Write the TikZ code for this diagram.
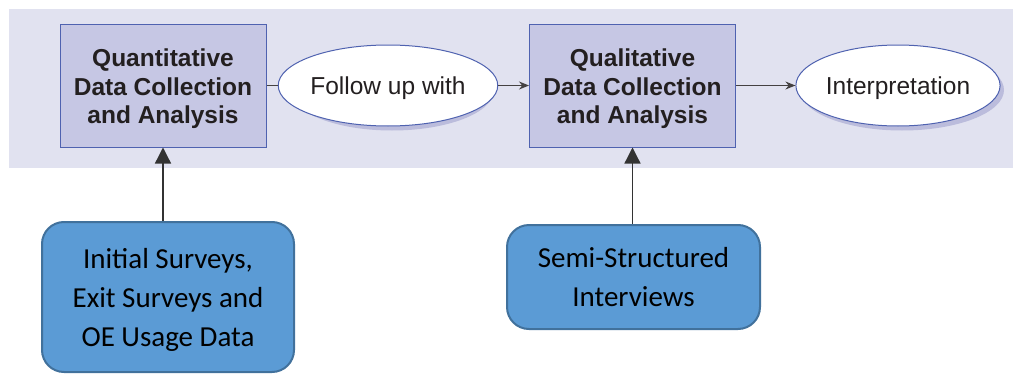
\documentclass[tikz,border=0pt]{standalone}
\usepackage{fontspec}
\setmainfont{Liberation Sans}
\newfontfamily\calib{Carlito}
\usetikzlibrary{arrows.meta,shapes.geometric}
\definecolor{bandfill}{HTML}{E1E2F0}
\definecolor{boxfill}{HTML}{C6C7E4}
\definecolor{boxline}{HTML}{4F62B0}
\definecolor{shade}{HTML}{BBBCDC}
\definecolor{bluefill}{HTML}{5B9BD5}
\definecolor{blueline}{HTML}{41719C}
\definecolor{ink}{HTML}{231F20}
% centred lines of text, set lower by #1 without changing the box size
\newcommand\lowered[2]{\raisebox{-#1}[\height][\depth]{\begin{tabular}{@{}c@{}}#2\end{tabular}}}
\tikzset{
  stagebox/.style={draw=boxline, line width=1pt, fill=boxfill, minimum width=206pt,
    minimum height=123pt, inner sep=0pt, align=center, text=ink,
    font=\fontsize{24.5}{28.5}\selectfont\bfseries},
  oval/.style={ellipse, draw=boxline, line width=1pt, fill=white, minimum width=204pt,
    minimum height=81pt, inner sep=0pt, text=ink, font=\fontsize{24.5}{28.5}\selectfont},
  ovalshade/.style={fill=shade},
  sourcebox/.style={draw=blueline, line width=2pt, fill=bluefill, rounded corners=22pt,
    inner sep=0pt, align=center, text=black, font=\calib\fontsize{29}{39}\selectfont},
  flow/.style={draw=ink!85, line width=1.3pt},
  flowarrow/.style={flow, -{Stealth[length=10pt,width=8pt]}},
  feed/.style={draw=black!80, line width=1.3pt, -{Triangle[length=16pt,width=16pt]}},
}
\begin{document}
\begin{tikzpicture}[x=1pt,y=-1pt]
\useasboundingbox (0,0) rectangle (1013,375);
% background band
\fill[bandfill] (9,9) rectangle (1013,168);
% oval drop shadows
\fill[ovalshade] (392,90) ellipse [x radius=102, y radius=40.5];
\fill[ovalshade] (902,90) ellipse [x radius=102, y radius=40.5];
% main process
\node[stagebox] (quant) at (163,85.5)
  {\lowered{4pt}{Quantitative\\Data Collection\\and Analysis}};
\node[oval] (follow) at (388,85.5) {\lowered{3pt}{Follow up with}};
\node[stagebox] (qual) at (632.5,85.5)
  {\lowered{4pt}{Qualitative\\Data Collection\\and Analysis}};
\node[oval] (interp) at (898,85.5) {\lowered{3pt}{Interpretation}};
\draw[flow] (quant.east) -- (follow.west);
\draw[flowarrow] (follow.east) -- (qual.west);
\draw[flowarrow] (qual.east) -- (interp.west);
% data sources
\node[sourcebox, minimum width=252pt, minimum height=150pt] (surveys) at (168,297)
  {\lowered{3pt}{Initial Surveys,\\Exit Surveys and\\OE Usage Data}};
\node[sourcebox, minimum width=253pt, minimum height=104pt] (interviews) at (633.5,277)
  {\lowered{2pt}{Semi-Structured\\Interviews}};
\draw[feed] (surveys.north -| quant.south) -- (quant.south);
\draw[feed] (interviews.north -| qual.south) -- (qual.south);
\end{tikzpicture}
\end{document}
